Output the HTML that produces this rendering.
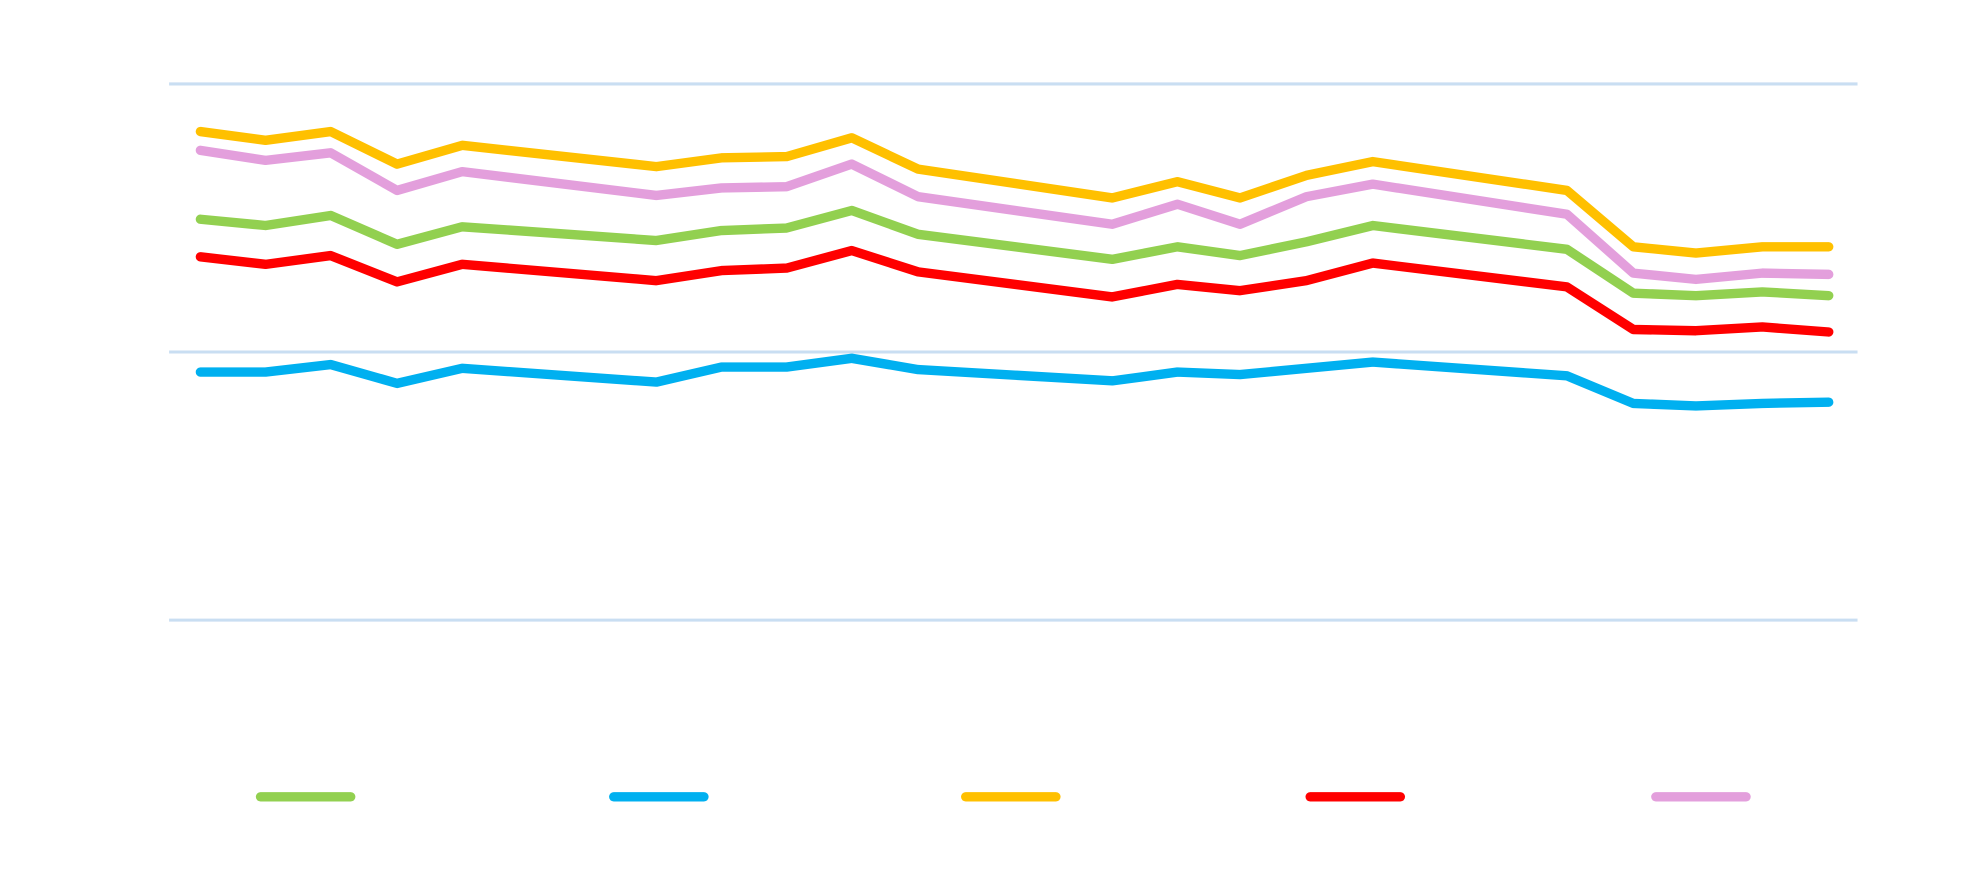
<!DOCTYPE html>
<html><head><style>html,body{margin:0;padding:0;background:#fff}svg{display:block}</style></head>
<body>
<svg width="1964" height="887" viewBox="0 0 1568 708" preserveAspectRatio="none" xmlns="http://www.w3.org/2000/svg">
<g stroke="#c9def2" stroke-width="2.4">
<line x1="135" y1="67" x2="1483" y2="67"/>
<line x1="135" y1="281" x2="1483" y2="281"/>
<line x1="135" y1="495" x2="1483" y2="495"/>
</g>
<g fill="none" stroke-width="7.5" stroke-linecap="round" stroke-linejoin="round">
<polyline stroke="#00b0f0" points="160,297 212,297 264,291 317,306 369,294 524,305 576,293 628,293 680,286 733,295 888,304 940,297 990,299 1043,294 1096,289 1251,300 1304,322 1354,324 1407,322 1460,321"/>
<polyline stroke="#ff0000" points="160,205 212,211 264,204 317,225 369,211 524,224 576,216 628,214 680,200 733,217 888,237 940,227 990,232 1043,224 1096,210 1251,229 1304,263 1354,264 1407,261 1460,265"/>
<polyline stroke="#92d050" points="160,175 212,180 264,172 317,195 369,181 524,192 576,184 628,182 680,168 733,187 888,207 940,197 990,204 1043,193 1096,180 1251,199 1304,234 1354,236 1407,233 1460,236"/>
<polyline stroke="#e39fdc" points="160,120 212,128 264,122 317,152 369,137 524,156 576,150 628,149 680,131 733,157 888,179 940,163 990,179 1043,157 1096,147 1251,171 1304,218 1354,223 1407,218 1460,219"/>
<polyline stroke="#ffc000" points="160,105 212,112 264,105 317,131 369,116 524,133 576,126 628,125 680,110 733,135 888,158 940,145 990,158 1043,140 1096,129 1251,152 1304,197 1354,202 1407,197 1460,197"/>
<line stroke="#92d050" x1="208" y1="636" x2="280" y2="636"/>
<line stroke="#00b0f0" x1="490" y1="636" x2="562" y2="636"/>
<line stroke="#ffc000" x1="771" y1="636" x2="843" y2="636"/>
<line stroke="#ff0000" x1="1046" y1="636" x2="1118" y2="636"/>
<line stroke="#e39fdc" x1="1322" y1="636" x2="1394" y2="636"/>
</g>
</svg>
</body></html>
